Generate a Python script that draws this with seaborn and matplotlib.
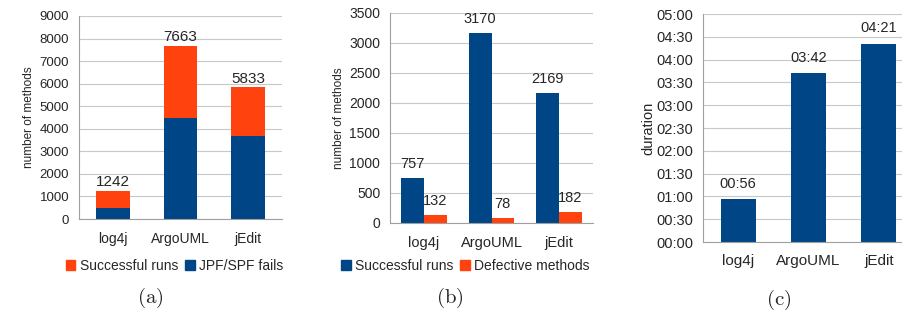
import pandas as pd
import seaborn as sns
from matplotlib import pyplot as plt
from matplotlib.ticker import FuncFormatter, FixedLocator
from matplotlib.patches import Patch

# data
projects = ['log4j', 'ArgoUML', 'jEdit']
successful = [757, 3170, 2169]
jpf_fails = [485, 4493, 3664]
defective = [132, 78, 182]
duration_sec = [56, 222, 261]

BLUE = '#004586'
ORANGE = '#ff420e'
GRID = '#c8c8c8'
AXIS = '#a0a0a0'

sns.set_style('white')
plt.rcParams['font.family'] = ['Liberation Sans', 'DejaVu Sans']
plt.rcParams['mathtext.fontset'] = 'cm'

fig = plt.figure(figsize=(9.02, 3.16), dpi=100)
ax_a = fig.add_axes([79/902, 1-219/316, 203/902, 203/316])
ax_b = fig.add_axes([390/902, 1-223/316, 203/902, 210/316])
ax_c = fig.add_axes([703/902, 1-242/316, 211/902, 228/316])


def style_axes(ax, ticksize):
    ax.set_xlim(-0.5, 2.5)
    for s in ['top', 'right']:
        ax.spines[s].set_visible(False)
    for s in ['left', 'bottom']:
        ax.spines[s].set_color(AXIS)
        ax.spines[s].set_linewidth(0.8)
    ax.yaxis.grid(True, color=GRID, linewidth=0.8)
    ax.set_axisbelow(True)
    ax.xaxis.set_minor_locator(FixedLocator([-0.5, 0.5, 1.5, 2.5]))
    ax.tick_params(axis='x', which='major', length=0, pad=9, labelsize=ticksize + 0.5)
    ax.tick_params(axis='x', which='minor', length=6, color=AXIS, width=0.8)
    ax.tick_params(axis='y', length=5, color=AXIS, width=0.8, pad=2, labelsize=ticksize)
    ax.set_xlabel('')


# (a) stacked: total (orange) behind fails (blue)
totals = [s + f for s, f in zip(successful, jpf_fails)]
df_a = pd.DataFrame({'project': projects, 'total': totals, 'fails': jpf_fails})
sns.barplot(data=df_a, x='project', y='total', color=ORANGE, width=0.5,
            saturation=1, linewidth=0, ax=ax_a)
sns.barplot(data=df_a, x='project', y='fails', color=BLUE, width=0.5,
            saturation=1, linewidth=0, ax=ax_a)
ax_a.set_ylim(0, 9000)
ax_a.set_yticks(range(0, 9001, 1000))
style_axes(ax_a, 9.5)
ax_a.set_ylabel('number of methods', fontsize=8.5, labelpad=3)
for i, t in enumerate(totals):
    ax_a.text(i, t + 80, str(t), ha='center', va='bottom', fontsize=11)
ax_a.legend(handles=[Patch(color=ORANGE, label='Successful runs'),
                     Patch(color=BLUE, label='JPF/SPF fails')],
            loc='upper center', bbox_to_anchor=(0.47, -0.17), ncol=2,
            frameon=False, fontsize=10, handlelength=0.7, handleheight=0.7,
            handletextpad=0.3, columnspacing=0.5, borderaxespad=0)

# (b) grouped
df_b = pd.DataFrame({
    'project': projects * 2,
    'count': successful + defective,
    'kind': ['Successful runs'] * 3 + ['Defective methods'] * 3,
})
sns.barplot(data=df_b, x='project', y='count', hue='kind',
            palette=[BLUE, ORANGE], width=0.67, saturation=1, linewidth=0, ax=ax_b)
ax_b.set_ylim(0, 3500)
ax_b.set_yticks(range(0, 3501, 500))
style_axes(ax_b, 10)
ax_b.set_ylabel('number of methods', fontsize=8.5, labelpad=3)
for c in ax_b.containers:
    ax_b.bar_label(c, padding=5, fontsize=10.5)
ax_b.legend(handles=[Patch(color=BLUE, label='Successful runs'),
                     Patch(color=ORANGE, label='Defective methods')],
            loc='upper center', bbox_to_anchor=(0.37, -0.145), ncol=2,
            frameon=False, fontsize=10, handlelength=0.7, handleheight=0.7,
            handletextpad=0.3, columnspacing=0.5, borderaxespad=0)

# (c) durations
df_c = pd.DataFrame({'project': projects, 'sec': duration_sec})
sns.barplot(data=df_c, x='project', y='sec', color=BLUE, width=0.5,
            saturation=1, linewidth=0, ax=ax_c)
ax_c.set_ylim(0, 300)
ax_c.set_yticks(range(0, 301, 30))
ax_c.yaxis.set_major_formatter(FuncFormatter(lambda v, p: '%02d:%02d' % (v // 60, v % 60)))
style_axes(ax_c, 10.5)
ax_c.set_ylabel('duration', fontsize=10.5, labelpad=1)
ax_c.bar_label(ax_c.containers[0],
               labels=['%02d:%02d' % (s // 60, s % 60) for s in duration_sec],
               padding=6, fontsize=10.5)

for x, y, lab in [(150, 298, 'a'), (450, 298, 'b'), (779, 300, 'c')]:
    fig.text(x/902, 1-y/316, r'$\mathrm{(' + lab + ')}$', ha='center', va='center', fontsize=15)

fig.savefig('out.png', dpi=100)
